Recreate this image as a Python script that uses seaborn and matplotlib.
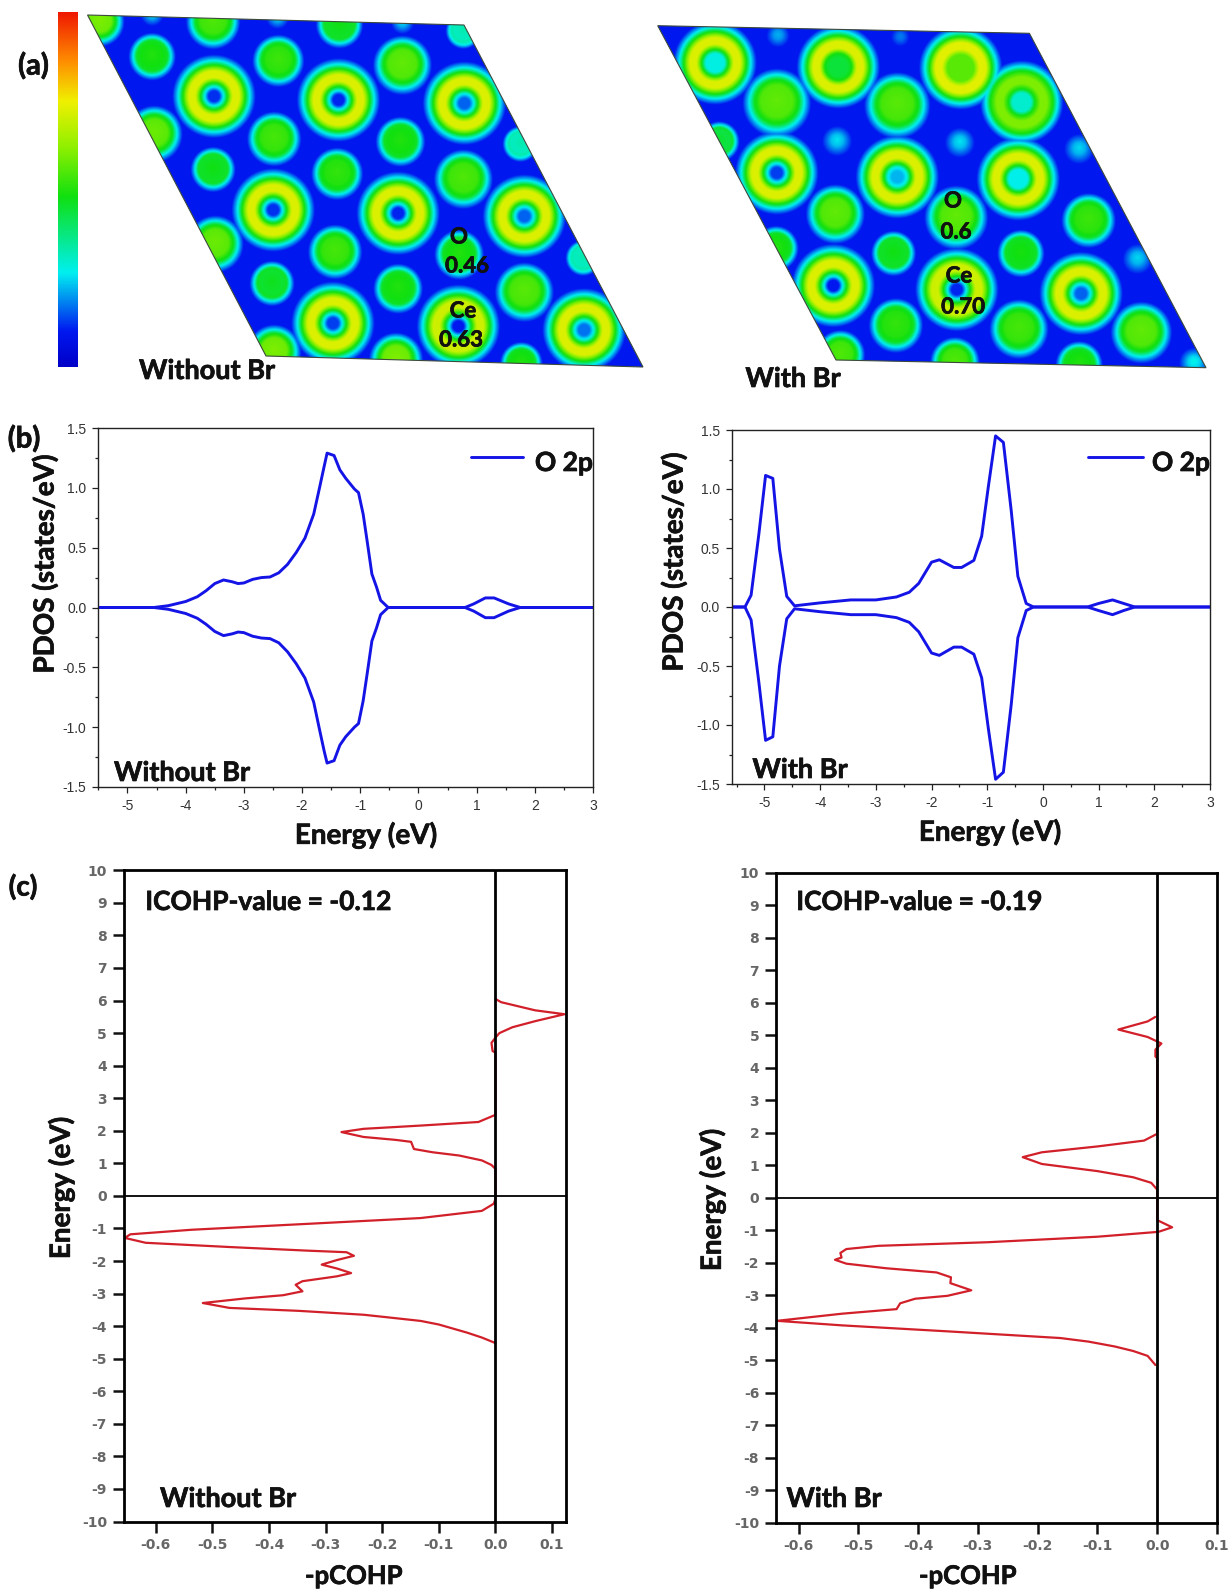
"""
Charge density maps, O 2p PDOS and pCOHP, without and with Br
"""
import matplotlib
matplotlib.use("Agg")
import matplotlib.patheffects as pe
import matplotlib.pyplot as plt
import numpy as np
import seaborn as sns
from matplotlib.colors import LinearSegmentedColormap
from matplotlib.patches import Polygon
from matplotlib.ticker import MultipleLocator

W, H = 1231, 1593
BLUE = "#1414e6"
RED = "#d2202a"
LABEL_FONT = "Lato"

# --- (a) charge density maps, everything read in picture pixels ---
CELL_L = [(87.5, 15), (464, 25), (643, 367), (266, 356)]
CELL_R = [(657.7, 25.7), (1029.4, 33.3), (1206, 367.7), (836, 360)]

# x, y, hole value, ring value
RINGS_L = [(213.4, 97, .12, .72), (338, 100.7, .11, .72), (464, 104, .16, .72),
           (272.7, 210.7, .12, .72), (397.7, 214, .11, .72), (524, 217, .16, .72),
           (332.5, 324, .13, .72), (458, 327, .10, .70), (583.8, 330.7, .17, .72)]
RINGS_R = [(714.6, 63.3, .28, .72), (837.9, 67.3, .44, .72), (960.4, 68.3, .56, .73),
           (1021.5, 102.7, .30, .60), (776.4, 173.3, .13, .72), (897, 177.3, .22, .72),
           (1018, 179.3, .27, .72), (833, 286, .10, .72), (956.6, 290, .11, .70),
           (1081, 294, .16, .72)]
# x, y, radius, centre value
BLOBS_L = [(151.5, 55, 20, .50), (277.8, 59, 22, .53), (402, 63, 25, .57), (273.6, 137, 23, .54),
           (400, 140, 21, .50), (212.5, 168, 19, .48), (336.7, 172, 22, .52), (463, 177, 25, .55),
           (334.6, 250, 23, .54), (458.8, 253, 21, .50), (271.5, 282, 19, .47), (397.7, 287, 21, .50),
           (524, 290, 25, .56), (99, 20, 21, .60), (212.5, 20, 23, .55), (339, 23, 20, .48),
           (463, 30, 15, .33), (153.6, 132, 24, .58), (214.6, 242, 24, .58), (520, 143, 15, .33),
           (583, 257, 15, .33), (273.6, 350, 23, .60), (395.6, 358, 23, .60), (521, 362, 18, .50),
           (151.5, 14, 10, .25), (277, 17, 10, .25), (402, 22, 10, .25)]
BLOBS_R = [(776.4, 100, 29, .57), (897, 102.7, 28, .56), (835, 211.7, 25, .57), (956, 215, 27, .57),
           (1088.5, 218.3, 23, .53), (893.3, 251.7, 19, .48), (1020.7, 251.7, 20, .49),
           (895.6, 323.3, 23, .52), (1018.8, 326.7, 25, .54), (1141.3, 330, 26, .57),
           (836.8, 140, 13, .26), (959.6, 141.7, 13, .26), (1079, 148, 13, .25), (1137.5, 258, 13, .25),
           (777.6, 35, 10, .22), (900, 36.7, 8, .18), (1194, 361.7, 13, .28), (719, 140, 17, .45),
           (775.7, 246.7, 19, .50), (840, 353, 21, .55), (954.7, 360, 21, .55), (1079, 363, 20, .50)]
RING_RADIUS = 36
BACKGROUND = 0.1

# --- (b) PDOS ---
E_L = [-5.5, -4.55, -4.3, -4, -3.8, -3.65, -3.5, -3.35, -3.2, -3.1, -3.0, -2.85, -2.7, -2.55, -2.4,
       -2.25, -2.1, -1.95, -1.8, -1.7, -1.62, -1.57, -1.45, -1.35, -1.25, -1.1, -1.03, -.95, -.88,
       -.8, -.72, -.65, -.52, .8, .95, 1.15, 1.3, 1.55, 1.75, 3]
UP_L = [0, 0, .015, .05, .09, .14, .20, .23, .215, .20, .205, .235, .25, .255, .29,
        .36, .46, .58, .78, 1.0, 1.18, 1.29, 1.27, 1.15, 1.08, .99, .96, .78, .55,
        .28, .17, .06, 0, 0, .03, .08, .08, .03, 0, 0]
DOWN_L = [0, 0, -.015, -.05, -.09, -.14, -.20, -.235, -.22, -.205, -.21, -.24, -.255, -.26, -.295,
          -.37, -.47, -.59, -.79, -1.02, -1.2, -1.3, -1.28, -1.15, -1.08, -1.0, -.97, -.78, -.55,
          -.28, -.17, -.06, 0, 0, -.03, -.085, -.085, -.03, 0, 0]
E_R = [-5.59, -5.35, -5.24, -5.1, -4.98, -4.85, -4.73, -4.6, -4.46, -4, -3.45, -3, -2.63, -2.4, -2.23,
       -2, -1.86, -1.6, -1.46, -1.24, -1.1, -.98, -.85, -.71, -.57, -.45, -.3, -.17, .8, 1, 1.25,
       1.45, 1.65, 3]
UP_R = [0, 0, .10, .62, 1.115, 1.09, .49, .09, .01, .035, .06, .06, .085, .125, .2,
        .38, .40, .335, .335, .395, .6, 1.02, 1.45, 1.395, .82, .26, .03, 0, 0, .03, .06,
        .03, 0, 0]
DOWN_R = [0, 0, -.11, -.64, -1.13, -1.10, -.50, -.10, -.015, -.04, -.065, -.065, -.09, -.13, -.21,
          -.39, -.41, -.34, -.34, -.40, -.6, -1.03, -1.46, -1.40, -.83, -.26, -.03, 0, 0, -.03, -.065,
          -.03, 0, 0]

# --- (c) pCOHP ---
COHP_X_L = [0, .01, .07, .122, .071, .03, .007, 0, -.007, -.005, 0, 0, -.03, -.132, -.233, -.272, -.233,
            -.176, -.149, -.144, -.111, -.064, -.024, -.007, 0, 0, -.003, -.024, -.132, -.334, -.537,
            -.645, -.655, -.618, -.47, -.334, -.263, -.25, -.28, -.307, -.28, -.255, -.28, -.341,
            -.353, -.341, -.375, -.443, -.517, -.47, -.348, -.233, -.19, -.132, -.10, -.078, -.05, -.024, 0]
COHP_E_L = [6.05, 5.95, 5.7, 5.58, 5.37, 5.18, 5.0, 4.86, 4.7, 4.45, 4.4, 2.49, 2.27, 2.16, 2.06, 1.96, 1.81,
            1.72, 1.66, 1.44, 1.34, 1.24, 1.09, .95, .83, -.1, -.24, -.46, -.68, -.86, -1.04,
            -1.18, -1.29, -1.44, -1.57, -1.68, -1.73, -1.84, -1.97, -2.11, -2.23, -2.37, -2.47, -2.62,
            -2.73, -2.93, -3.05, -3.15, -3.29, -3.44, -3.53, -3.65, -3.73, -3.84, -3.95, -4.06, -4.2, -4.35, -4.52]
COHP_X_R = [-.003, -.016, -.065, -.016, .007, -.003, -.003, 0, 0, -.022, -.1, -.193, -.225, -.193, -.1,
            -.04, -.01, 0, 0, .025, .002, -.1, -.284, -.466, -.52, -.53, -.528, -.539, -.52, -.454,
            -.369, -.345, -.346, -.311, -.351, -.405, -.43, -.436, -.527, -.636, -.527, -.345, -.162,
            -.115, -.071, -.04, -.016, -.003]
COHP_E_R = [5.57, 5.43, 5.18, 4.95, 4.75, 4.56, 4.35, 4.3, 1.97, 1.76, 1.58, 1.4, 1.25, 1.04, .82,
            .63, .46, .25, -.69, -.91, -1.05, -1.2, -1.37, -1.48, -1.58, -1.7, -1.84, -1.91, -2.03, -2.17,
            -2.3, -2.45, -2.63, -2.85, -3.02, -3.11, -3.25, -3.43, -3.57, -3.79, -3.93, -4.12, -4.32,
            -4.43, -4.58, -4.72, -4.87, -5.15]

PDOS_X_TICKS = [-5, -4, -3, -2, -1, 0, 1, 2, 3]
PDOS_Y_TICKS = [-1.5, -1.0, -0.5, 0.0, 0.5, 1.0, 1.5]
COHP_Y_TICKS = list(range(-10, 11))
COHP_X_TICKS = [-0.6, -0.5, -0.4, -0.3, -0.2, -0.1, 0.0, 0.1]

sns.set_theme(style="ticks")
plt.rcParams.update({"font.family": ["Liberation Sans", "DejaVu Sans"], "axes.unicode_minus": False})

fig = plt.figure(figsize=(W / 100, H / 100), dpi=100, facecolor="white")

# jet-like scale of the colour bar
DENSITY = LinearSegmentedColormap.from_list("density", [
    (0.0, "#0000c8"), (0.1, "#0018f0"), (0.265, "#00f0f0"), (0.48, "#10e010"),
    (0.62, "#90f000"), (0.75, "#f0f000"), (0.86, "#ff9000"), (1.0, "#f01800")])


def px_axes(left, top, right, bottom):
    return fig.add_axes([left / W, 1 - bottom / H, (right - left) / W, (bottom - top) / H])


overlay = fig.add_axes([0, 0, 1, 1], zorder=10)
overlay.set_xlim(0, W)
overlay.set_ylim(H, 0)
overlay.axis("off")
overlay.patch.set_alpha(0)


def label(x, y, txt, size=19.5, **kw):
    t = overlay.text(x, y, txt, fontsize=size, fontweight="bold", family=LABEL_FONT, color="#111111",
                     ha="center", va="center", zorder=5, **kw)
    # the reference face is heavier than what Lato gives here
    t.set_path_effects([pe.withStroke(linewidth=0.5, foreground="#111111")])


def density_field(cell, rings, blobs):
    xs = np.arange(min(p[0] for p in cell) - 2, max(p[0] for p in cell) + 2, 0.5)
    ys = np.arange(min(p[1] for p in cell) - 2, max(p[1] for p in cell) + 2, 0.5)
    gx, gy = np.meshgrid(xs, ys)
    field = np.full(gx.shape, BACKGROUND)
    for x, y, hole, peak in rings:
        r = np.hypot(gx - x, gy - y) / RING_RADIUS
        stops = [hole, hole, max(hole, .27), max(hole, .48), peak, peak, .48, .27, BACKGROUND]
        field = np.maximum(field, np.interp(r, [0, .15, .26, .37, .52, .70, .87, .99, 1.16], stops))
    for x, y, rad, centre in blobs:
        r = np.hypot(gx - x, gy - y) / rad
        # eggs are a little narrower at the top
        r = r * (1 + 0.10 * (y - gy) / (np.hypot(gx - x, gy - y) + 1e-6))
        if centre > .3:
            stops = [centre, centre - .02, min(centre, .46), .27, BACKGROUND]
            field = np.maximum(field, np.interp(r, [0, .55, .77, .94, 1.18], stops))
        else:
            field = np.maximum(field, np.interp(r, [0, .45, 1.15], [centre, .8 * centre + .02, BACKGROUND]))
    return field, (xs[0], xs[-1], ys[-1], ys[0])


def draw_cell(cell, rings, blobs):
    field, extent = density_field(cell, rings, blobs)
    img = overlay.imshow(field, cmap=DENSITY, vmin=0, vmax=1, extent=extent, aspect="auto",
                         interpolation="bilinear", zorder=1)
    clip = Polygon(cell, closed=True, transform=overlay.transData)
    img.set_clip_path(clip)
    overlay.add_patch(Polygon(cell, closed=True, fill=False, ec="#3c4a3c", lw=0.8, zorder=2))


draw_cell(CELL_L, RINGS_L, BLOBS_L)
draw_cell(CELL_R, RINGS_R, BLOBS_R)
overlay.imshow(np.linspace(1, 0, 256).reshape(-1, 1), cmap=DENSITY, vmin=0, vmax=1,
               extent=(57.7, 77, 367, 12), aspect="auto", zorder=1)
overlay.set_xlim(0, W)
overlay.set_ylim(H, 0)


def pdos_panel(box, energy, up, down, xmin):
    ax = px_axes(*box)
    sns.lineplot(x=energy, y=up, sort=False, estimator=None, color=BLUE, lw=2.1, ax=ax)
    sns.lineplot(x=energy, y=down, sort=False, estimator=None, color=BLUE, lw=2.1, ax=ax)
    ax.set_xlim(xmin, 3)
    ax.set_ylim(-1.5, 1.5)
    ax.set_xticks(PDOS_X_TICKS)
    ax.set_yticks(PDOS_Y_TICKS)
    ax.set_yticklabels([f"{v:.1f}" for v in PDOS_Y_TICKS])
    ax.xaxis.set_minor_locator(MultipleLocator(0.5))
    ax.yaxis.set_minor_locator(MultipleLocator(0.25))
    ax.tick_params(which="major", length=4.5, width=0.9, labelsize=10, labelcolor="#333333", color="#222222", pad=4)
    ax.tick_params(which="minor", length=2.5, width=0.9, color="#222222")
    for sp in ax.spines.values():
        sp.set_linewidth(1.0)
        sp.set_color("#222222")
        sp.set_visible(True)
    return ax


def cohp_panel(box, x, e, xlim):
    ax = px_axes(*box)
    sns.lineplot(x=x, y=e, sort=False, estimator=None, color=RED, lw=1.6, ax=ax)
    ax.axvline(0, color="black", lw=2.0)
    ax.axhline(0, color="black", lw=1.3)
    ax.set_xlim(*xlim)
    ax.set_ylim(-10, 10)
    ax.set_yticks(COHP_Y_TICKS)
    ax.set_xticks(COHP_X_TICKS)
    ax.set_xticklabels([f"{v:.1f}" for v in COHP_X_TICKS])
    ax.tick_params(axis="both", length=8, width=1.8, color="#111111", labelsize=10, labelcolor="#666666", pad=4)
    for t in ax.get_xticklabels() + ax.get_yticklabels():
        t.set_family("DejaVu Sans")
        t.set_fontweight("bold")
    for sp in ax.spines.values():
        sp.set_linewidth(2.0)
        sp.set_color("black")
        sp.set_visible(True)
    return ax


pdos_panel((98.4, 428, 593, 787), E_L, UP_L, DOWN_L, -5.5)
pdos_panel((731.6, 430, 1210, 784), E_R, UP_R, DOWN_R, -5.59)
cohp_panel((123.6, 870.3, 565.6, 1521.5), COHP_X_L, COHP_E_L, (-0.657, 0.124))
cohp_panel((775.8, 873, 1217, 1522.5), COHP_X_R, COHP_E_R, (-0.638, 0.1))

overlay.plot([471, 523], [457, 457], color=BLUE, lw=2.1, zorder=3)
overlay.plot([1088, 1143], [457, 457], color=BLUE, lw=2.1, zorder=3)
overlay.set_xlim(0, W)
overlay.set_ylim(H, 0)

label(33.5, 66, "(a)", 21)
label(24, 439, "(b)", 21)
label(23, 887, "(c)", 20)
label(207, 371, "Without Br")
label(793, 379, "With Br")
for x, y, txt in [(459, 237, "O"), (467, 266, "0.46"), (463, 311, "Ce"), (461, 340, "0.63"),
                  (953, 201, "O"), (956, 232, "0.6"), (959, 276, "Ce"), (963, 307, "0.70")]:
    label(x, y, txt, 16)
label(564, 463, "O 2p", 19)
label(1181, 463, "O 2p", 19)
label(182, 773, "Without Br")
label(800, 770, "With Br")
label(366, 835, "Energy (eV)", 20)
label(990, 832, "Energy (eV)", 20)
label(45, 564, "PDOS (states/eV)", 20, rotation=90)
label(674, 562, "PDOS (states/eV)", 20, rotation=90)
label(268, 902, "ICOHP-value = -0.12", 19)
label(919, 902, "ICOHP-value = -0.19", 19)
label(228, 1499, "Without Br")
label(834, 1499, "With Br")
label(61, 1188, "Energy (eV)", 20, rotation=90)
label(712, 1200, "Energy (eV)", 20, rotation=90)
label(354, 1576, "-pCOHP", 18.5)
label(968, 1576, "-pCOHP", 18.5)

fig.savefig("out.png", dpi=100)
plt.close(fig)
